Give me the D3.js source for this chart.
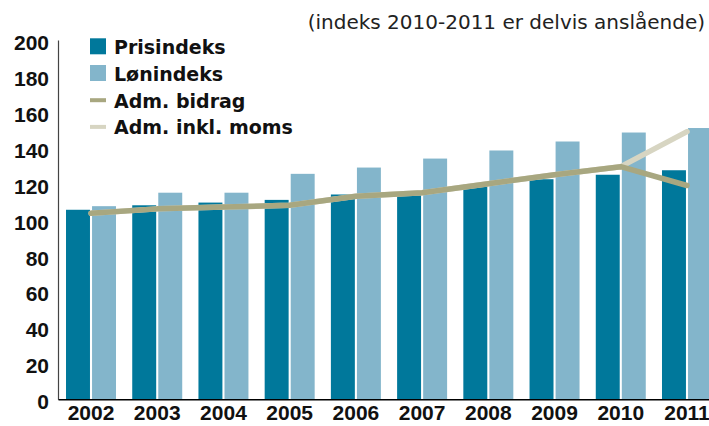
<html>
<head>
    <meta charset="utf-8">
    <script src="https://d3js.org/d3.v7.min.js"></script>
    <style>
        body { margin: 0; background: #fff; }
        svg { font-family: "DejaVu Sans", sans-serif; }
        .tick-label { font-size: 21px; font-weight: bold; fill: #111; }
        .legend-text { font-size: 19px; font-weight: bold; fill: #111; }
        .subtitle { font-size: 20px; fill: #222; }
    </style>
</head>
<body>
<div id="chart"></div>
<script>
    // data
    var years = ["2002", "2003", "2004", "2005", "2006", "2007", "2008", "2009", "2010", "2011"];
    var prisindeks = [105.5, 108, 109.5, 111, 114, 114.5, 119.5, 122.5, 125, 127.5];
    var lonindeks = [107.5, 115, 115, 125.5, 129, 134, 138.5, 143.5, 148.5, 151];
    var admBidrag = [103.5, 106, 107, 108, 113, 115, 120, 125, 129.5, 119];
    var admMoms = [103.5, 106, 107, 108, 113, 115, 120, 125, 129.5, 149];
    var yTicks = [0, 20, 40, 60, 80, 100, 120, 140, 160, 180, 200];
    var barSeries = ["Prisindeks", "Lønindeks"];
    var lineSeries = ["Adm. bidrag", "Adm. inkl. moms"];
    var subtitle = "(indeks 2010-2011 er delvis anslående)";

    var width = 709, height = 426;
    var colors = {
        "Prisindeks": "#00789b",
        "Lønindeks": "#83b5cb",
        "Adm. bidrag": "#a8a780",
        "Adm. inkl. moms": "#d7d5c2"
    };

    var svg = d3.select("#chart").append("svg")
        .attr("width", width)
        .attr("height", height);

    /* scales */
    var x0 = d3.scaleBand()
        .domain(years)
        .range([58, 720])
        .paddingInner(0.245)
        .paddingOuter(0.121);
    var x1 = d3.scaleBand()
        .domain(barSeries)
        .range([0, x0.bandwidth()])
        .paddingInner(0.08);
    var y = d3.scaleLinear()
        .domain([0, 200])
        .range([399.3, 40]);

    /* bars */
    var barData = years.map(function(yr, i) {
        return { year: yr, values: [
            { key: "Prisindeks", value: prisindeks[i] },
            { key: "Lønindeks", value: lonindeks[i] }
        ]};
    });
    svg.append("g").selectAll("g")
        .data(barData).enter()
        .append("g")
        .attr("transform", d => `translate(${x0(d.year)},0)`)
        .selectAll("rect")
        .data(d => d.values).enter()
        .append("rect")
        .attr("x", d => x1(d.key))
        .attr("width", x1.bandwidth())
        .attr("y", d => y(d.value))
        .attr("height", d => y(0) - y(d.value))
        .attr("fill", d => colors[d.key]);

    /* lines */
    var line = d3.line()
        .x((d, i) => x0(years[i]) + x0.bandwidth() / 2)
        .y(d => y(d));
    svg.append("path")
        .attr("d", line(admMoms))
        .attr("fill", "none")
        .attr("stroke", colors["Adm. inkl. moms"])
        .attr("stroke-width", 5.5)
        .attr("stroke-linejoin", "round")
        .attr("stroke-linecap", "round");
    svg.append("path")
        .attr("d", line(admBidrag))
        .attr("fill", "none")
        .attr("stroke", colors["Adm. bidrag"])
        .attr("stroke-width", 5.5)
        .attr("stroke-linejoin", "round")
        .attr("stroke-linecap", "round");

    /* axes */
    var yAxis = d3.axisLeft(y).tickValues(yTicks).tickSize(0).tickPadding(9);
    var gy = svg.append("g")
        .attr("transform", "translate(58,0)")
        .call(yAxis);
    gy.select(".domain").attr("stroke", "#444").attr("stroke-width", 1.2);
    gy.selectAll("text")
        .attr("class", "tick-label")
        .attr("dy", "0.45em")
        .attr("font-family", null)
        .attr("font-size", null);

    var xAxis = d3.axisBottom(x0).tickSize(0).tickPadding(6);
    var gx = svg.append("g")
        .attr("transform", `translate(0,${y(0)})`)
        .call(xAxis);
    gx.select(".domain").attr("stroke", "#000").attr("stroke-width", 1.6);
    gx.selectAll("text")
        .attr("class", "tick-label")
        .attr("dy", "0.71em")
        .attr("font-family", null)
        .attr("font-size", null);

    /* subtitle */
    svg.append("text")
        .attr("class", "subtitle")
        .attr("x", 705)
        .attr("y", 29)
        .attr("text-anchor", "end")
        .text(subtitle);

    /* legend */
    var legendKeys = barSeries.concat(lineSeries);
    var legend = svg.append("g").selectAll("g")
        .data(legendKeys).enter()
        .append("g")
        .attr("transform", (d, i) => `translate(90,${54.3 + i * 26.7})`);
    legend.append("rect")
        .attr("x", 0)
        .attr("y", (d, i) => i < 2 ? -16 : -9.5)
        .attr("width", 16)
        .attr("height", (d, i) => i < 2 ? 16 : 4)
        .attr("fill", d => colors[d]);
    legend.append("text")
        .attr("class", "legend-text")
        .attr("x", 24)
        .attr("y", 0)
        .text(d => d);
</script>
</body>
</html>
